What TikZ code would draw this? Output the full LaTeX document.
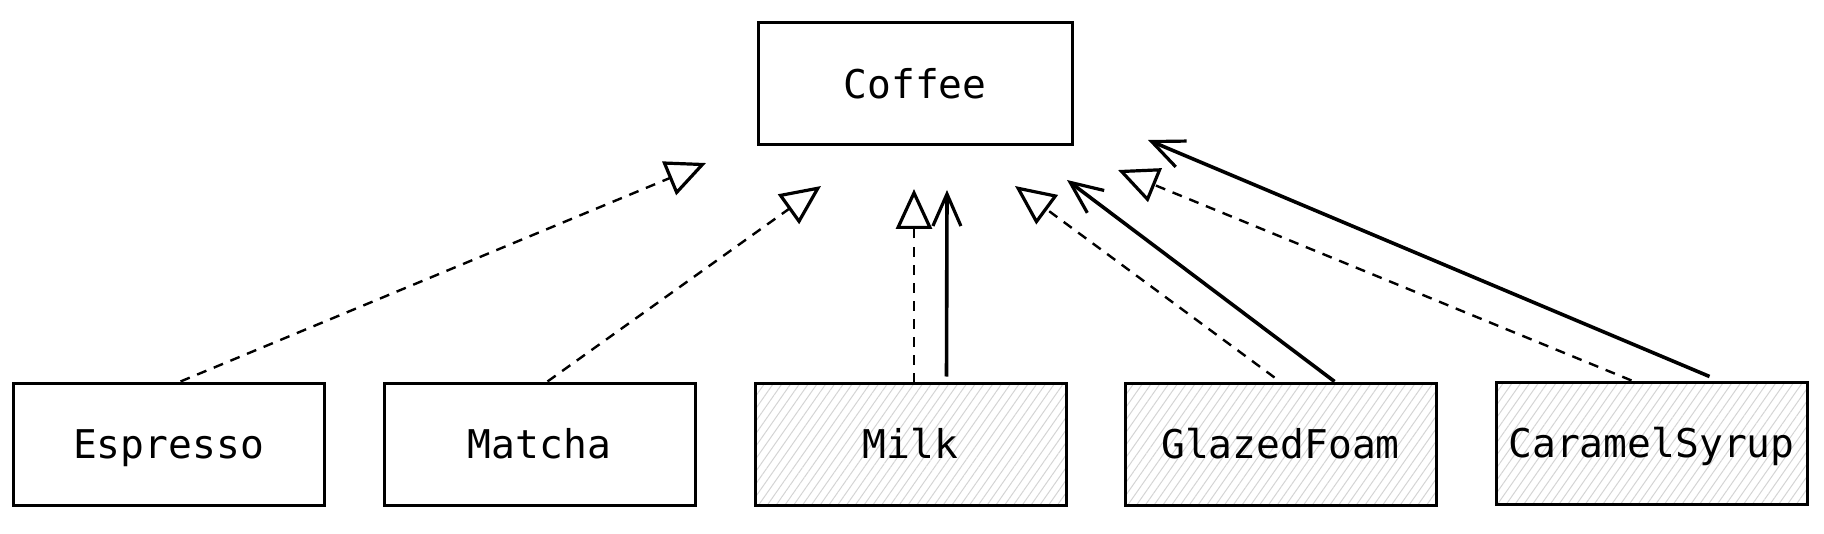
\documentclass[tikz,border=0pt]{standalone}
\usepackage{fontspec}
\setmonofont{DejaVu Sans Mono}
\usetikzlibrary{arrows.meta,patterns.meta}
\tikzset{
  cls/.style={draw=black, line width=1.5pt, minimum width=155.5pt, minimum height=61pt,
    inner sep=0pt, font=\ttfamily\fontsize{19.8}{23}\selectfont, text height=14.4pt, text depth=0pt},
  hatched/.style={cls, pattern={Lines[angle=55, distance=3.6pt, line width=0.5pt]}, pattern color=black!17},
  realize/.style={dash pattern=on 5pt off 4pt, line width=1.2pt, -{Triangle[open, length=20pt, width=18pt, line width=1.6pt]}},
  assoc/.style={line width=1.8pt, -{Straight Barb[length=16pt, width=14pt, line width=1.6pt]}}
}
\begin{document}
\begin{tikzpicture}[x=0.5pt,y=-0.5pt]
\useasboundingbox (0,0) rectangle (1824,534);
\node[cls, minimum width=157pt] (coffee) at (915,84) {Coffee};
\node[cls] (esp) at (168.5,444) {Espresso};
\node[cls] (mat) at (539.5,444) {Matcha};
\node[hatched] (milk) at (910.5,444) {Milk};
\node[hatched] (foam) at (1280.5,444) {GlazedFoam};
\node[hatched] (syrup) at (1651.5,443) {CaramelSyrup};
\coordinate (tEsp) at (706,163);
\coordinate (tMat) at (821,186);
\coordinate (tMilkD) at (914,189);
\coordinate (tMilkS) at (947,190);
\coordinate (tFoamD) at (1015,186);
\coordinate (tFoamS) at (1067,180);
\coordinate (tSyrD) at (1118,170);
\coordinate (tSyrS) at (1148,140);
\draw[realize] ([xshift=6pt]esp.north) -- (tEsp);
\draw[realize] ([xshift=4pt]mat.north) -- (tMat);
\draw[realize] ([xshift=1.75pt]milk.north) -- (tMilkD);
\draw[assoc] ([xshift=18pt,yshift=3pt]milk.north) -- (tMilkS);
\draw[realize] ([xshift=-3pt,yshift=2pt]foam.north) -- (tFoamD);
\draw[assoc] ([xshift=27pt]foam.north) -- (tFoamS);
\draw[realize] ([xshift=-10pt]syrup.north) -- (tSyrD);
\draw[assoc] ([xshift=29pt,yshift=2pt]syrup.north) -- (tSyrS);
\end{tikzpicture}
\end{document}
